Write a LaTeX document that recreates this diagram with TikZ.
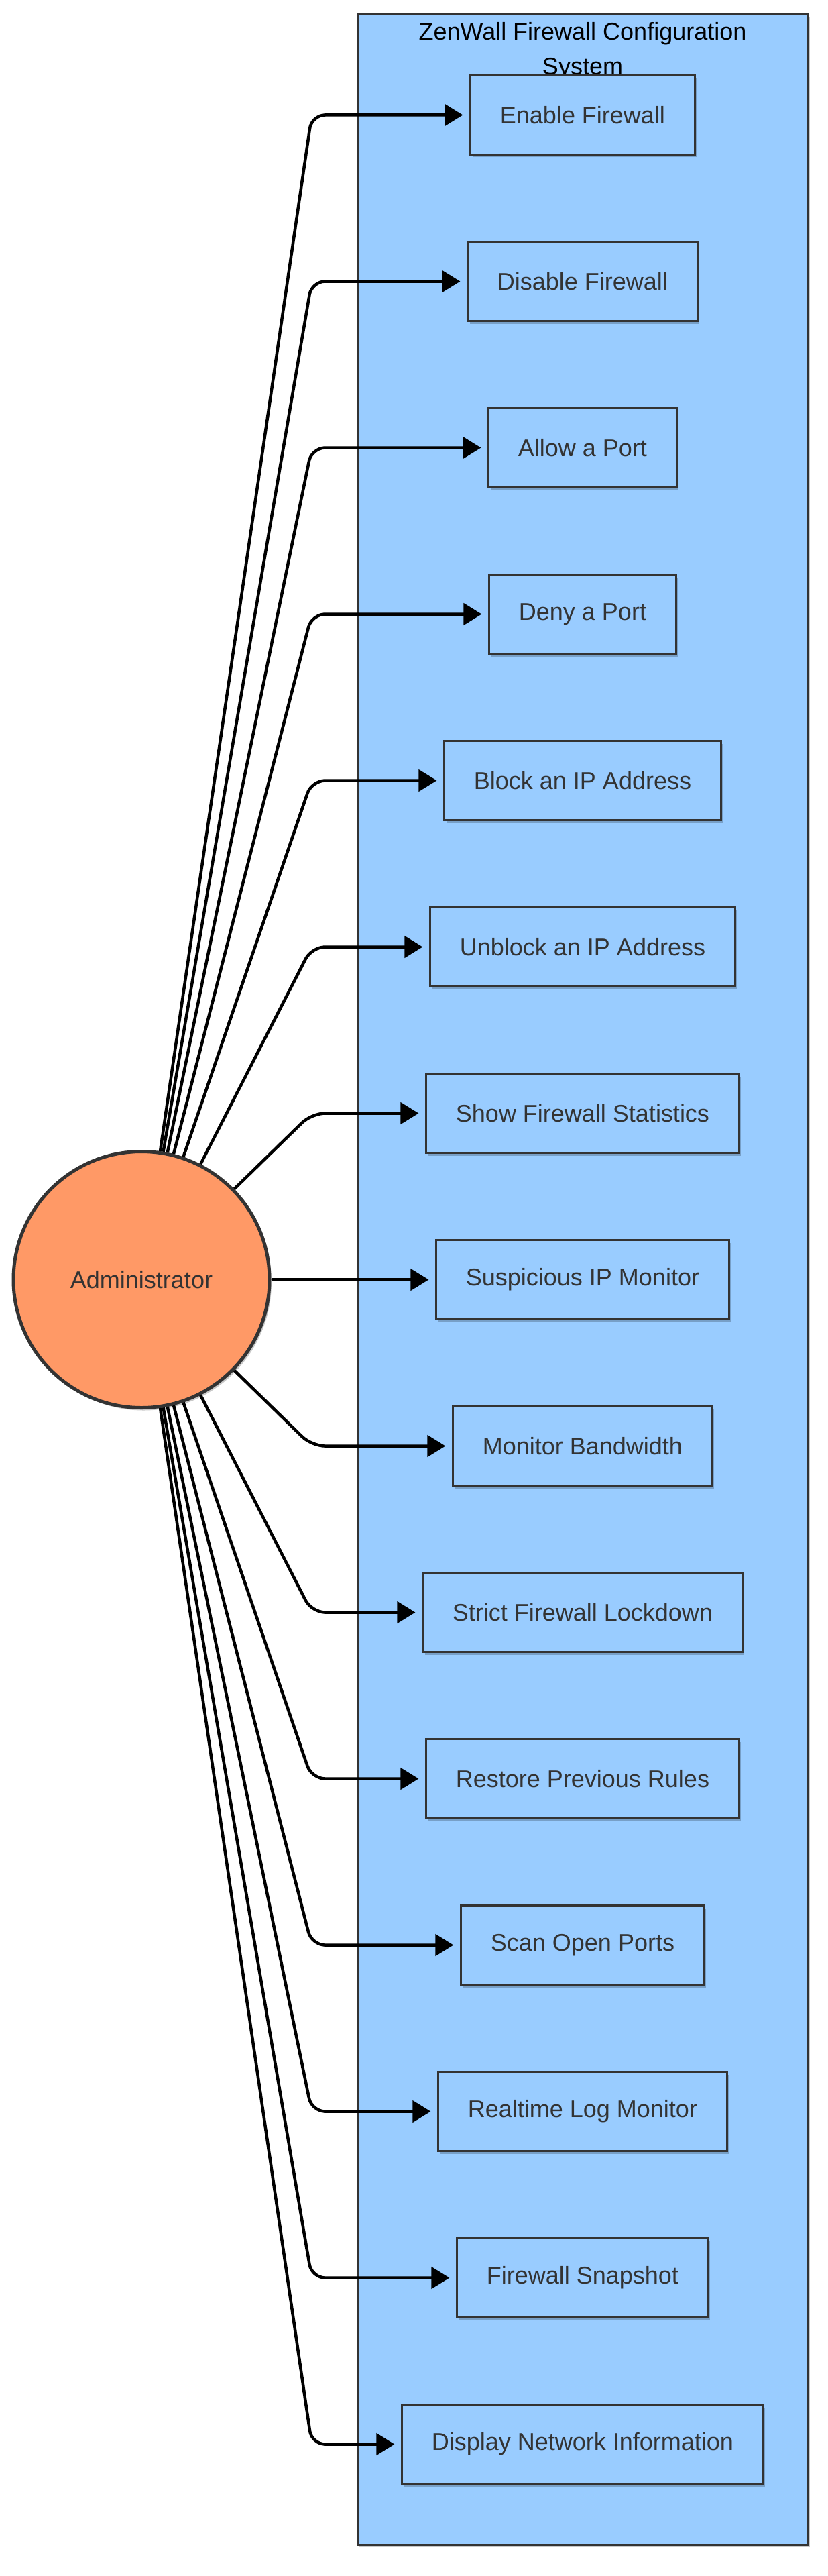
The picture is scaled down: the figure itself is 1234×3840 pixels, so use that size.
\documentclass[tikz,border=0pt]{standalone}
\usepackage{fontspec}
\setmainfont{Liberation Sans}
\usetikzlibrary{arrows.meta,shadows}
\definecolor{boxblue}{HTML}{99CCFF}
\definecolor{adminorange}{HTML}{FF9966}
\definecolor{edgegray}{HTML}{333333}
\begin{document}
\begin{tikzpicture}[x=1pt,y=-1pt,
  softshadow/.style={drop shadow={shadow xshift=3pt, shadow yshift=-4pt, opacity=0.22, fill=black}},
  usecase/.style={draw=edgegray, line width=3pt, fill=boxblue, inner xsep=44pt, inner ysep=0pt,
    minimum height=118pt, text=edgegray, font=\fontsize{36}{43}\selectfont, softshadow},
  actor/.style={circle, draw=edgegray, line width=5pt, fill=adminorange, minimum size=382pt,
    inner sep=0pt, text=edgegray, font=\fontsize{36}{43}\selectfont, softshadow},
  container/.style={draw=edgegray, line width=3pt, fill=boxblue, minimum width=672pt,
    minimum height=3772pt, inner sep=0pt, softshadow},
  titletext/.style={font=\fontsize{36}{43}\selectfont, text=black, anchor=base, inner sep=0pt},
  conn/.style={line width=4.5pt, -{Triangle[length=27pt,width=32pt]}, rounded corners=20pt, shorten >=10pt}]
\useasboundingbox (0,0) rectangle (1234,3840);
\fill[white] (0,0) rectangle (1234,3840);
\node[container] (system) at (869,1907) {};
\node[titletext] (title1) at (869,60) {ZenWall Firewall Configuration};
\node[titletext] (title2) at (869,112) {System};
\node[actor] (admin) at (211,1907.5) {Administrator};
\foreach \i/\t in {1/Enable Firewall, 2/Disable Firewall, 3/Allow a Port, 4/Deny a Port,
  5/Block an IP Address, 6/Unblock an IP Address, 7/Show Firewall Statistics,
  8/Suspicious IP Monitor, 9/Monitor Bandwidth, 10/Strict Firewall Lockdown,
  11/Restore Previous Rules, 12/Scan Open Ports, 13/Realtime Log Monitor,
  14/Firewall Snapshot, 15/Display Network Information}{
  \node[usecase] (uc\i) at (869,{171.5+(\i-1)*248}) {\t};
}
\foreach \i in {1,...,15}{
  \draw[conn] (admin) -- (465,{171.5+(\i-1)*248}) -- (uc\i.west);
}
\end{tikzpicture}
\end{document}
